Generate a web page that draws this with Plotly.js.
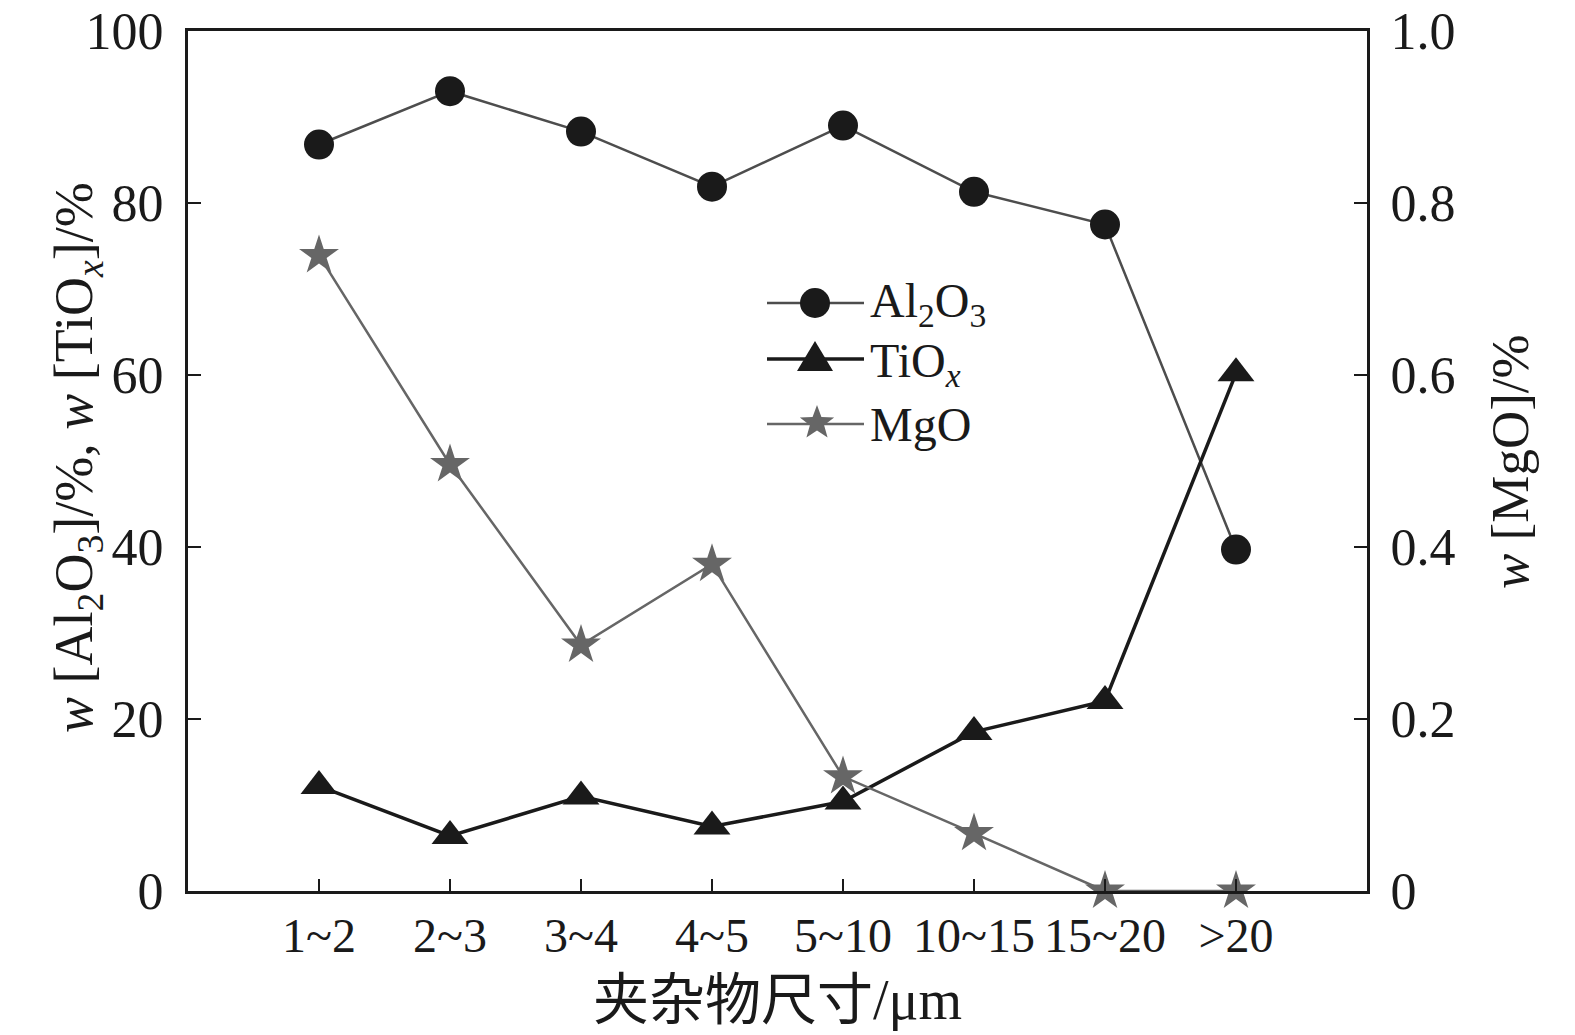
<!DOCTYPE html>
<html>
<head>
<meta charset="utf-8">
<script src="https://cdn.plot.ly/plotly-3.0.1.min.js"></script>
<style>html,body{margin:0;padding:0;background:#fff;}#chart{width:1575px;height:1035px;}</style>
</head>
<body>
<div id="chart"></div>
<script>
const categories = ['1~2', '2~3', '3~4', '4~5', '5~10', '10~15', '15~20', '>20'];
const al2o3 = [86.8, 93.0, 88.3, 81.9, 89.0, 81.3, 77.5, 39.7];
const tiox = [12.2, 6.4, 11.0, 7.5, 10.4, 18.5, 22.1, 60.2];
const mgo = [0.739, 0.496, 0.286, 0.380, 0.133, 0.067, 0.0, 0.0];
const leftTicks = [0, 20, 40, 60, 80, 100];
const rightTicks = [0, 0.2, 0.4, 0.6, 0.8, 1.0];
const rightTickText = ['0', '0.2', '0.4', '0.6', '0.8', '1.0'];
const seriesNames = ['Al<sub>2</sub>O<sub>3</sub>', 'TiO<sub><i>x</i></sub>', 'MgO'];

const W = 1575, H = 1035;
const M = {l: 188, r: 208, t: 31, b: 144};
const PW = W - M.l - M.r, PH = H - M.t - M.b;
const px = v => (v - M.l) / PW;
const py = v => (H - M.b - v) / PH;

const xIdx = categories.map((c, i) => i);
const serif = '"Liberation Serif", "Times New Roman", "Noto Sans CJK SC", serif';
const ink = '#1a1a1a';
const colors = {al: '#4d4d4d', alMark: '#1a1a1a', ti: '#1a1a1a', mg: '#666666'};

const traces = [
  {
    x: xIdx, y: al2o3, name: seriesNames[0], type: 'scatter', mode: 'lines+markers',
    line: {color: colors.al, width: 2.5},
    marker: {symbol: 'circle', size: 30, color: colors.alMark},
    cliponaxis: false, showlegend: false
  },
  {
    x: xIdx, y: tiox, name: seriesNames[1], type: 'scatter', mode: 'lines+markers',
    line: {color: colors.ti, width: 3.5},
    marker: {symbol: 'triangle-up', size: 32, color: colors.ti},
    cliponaxis: false, showlegend: false
  },
  {
    x: xIdx, y: mgo, name: seriesNames[2], type: 'scatter', mode: 'lines+markers', yaxis: 'y2',
    line: {color: colors.mg, width: 2.5},
    marker: {symbol: 'star', size: 30, color: colors.mg},
    cliponaxis: false, showlegend: false
  }
];

// ---- hand-drawn legend (layout only) ----
function starPath(R, r) {
  let pts = [];
  for (let k = 0; k < 10; k++) {
    const a = Math.PI / 2 + k * Math.PI / 5;
    const rad = k % 2 === 0 ? R : r;
    pts.push((rad * Math.cos(a)).toFixed(2) + ',' + (rad * Math.sin(a)).toFixed(2));
  }
  return 'M' + pts.join('L') + 'Z';
}
const legRows = [303, 359, 424];
const legX0 = 767, legX1 = 864, legMX = 815, legTX = 868;
const shapes = [];
const anns = [];
const lineStyles = [
  {color: colors.al, width: 2.5},
  {color: colors.ti, width: 3.5},
  {color: colors.mg, width: 2.5}
];
legRows.forEach((ry, i) => {
  shapes.push({type: 'line', xref: 'paper', yref: 'paper', x0: px(legX0), x1: px(legX1), y0: py(ry), y1: py(ry), line: lineStyles[i], layer: 'above'});
});
shapes.push({type: 'circle', xref: 'paper', yref: 'paper', xsizemode: 'pixel', ysizemode: 'pixel',
  xanchor: px(legMX), yanchor: py(legRows[0]), x0: -15, x1: 15, y0: -15, y1: 15,
  fillcolor: colors.alMark, line: {width: 0}, layer: 'above'});
shapes.push({type: 'path', xref: 'paper', yref: 'paper', xsizemode: 'pixel', ysizemode: 'pixel',
  xanchor: px(legMX), yanchor: py(legRows[1]), path: 'M0,18L-18,-12L18,-12Z',
  fillcolor: colors.ti, line: {width: 0}, layer: 'above'});
shapes.push({type: 'path', xref: 'paper', yref: 'paper', xsizemode: 'pixel', ysizemode: 'pixel',
  xanchor: px(legMX + 2), yanchor: py(legRows[2] - 1), path: starPath(18, 7.5),
  fillcolor: colors.mg, line: {width: 0}, layer: 'above'});
const legShift = [1, 5, 0];
legRows.forEach((ry, i) => {
  anns.push({text: seriesNames[i], xref: 'paper', yref: 'paper', x: px(legTX), y: py(ry + legShift[i]),
    xanchor: 'left', yanchor: 'middle', showarrow: false, font: {family: serif, size: 48, color: ink}});
});
// axis titles as annotations
anns.push({text: '<i>w</i> [Al<sub>2</sub>O<sub>3</sub>]/%, <i>w</i> [TiO<sub><i>x</i></sub>]/%', xref: 'paper', yref: 'paper',
  x: px(77), y: py(458), xanchor: 'center', yanchor: 'middle', textangle: -90, showarrow: false,
  font: {family: serif, size: 54, color: ink}});
anns.push({text: '<i>w</i> [MgO]/%', xref: 'paper', yref: 'paper',
  x: px(1510), y: py(462), xanchor: 'center', yanchor: 'middle', textangle: -90, showarrow: false,
  font: {family: serif, size: 53, color: ink}});
anns.push({text: '夹杂物尺寸/μm', xref: 'paper', yref: 'paper',
  x: px(777), y: py(1000), xanchor: 'center', yanchor: 'middle', showarrow: false,
  font: {family: serif, size: 56, color: ink}});

const layout = {
  width: W, height: H,
  margin: M,
  paper_bgcolor: '#fff', plot_bgcolor: '#fff',
  font: {family: serif, size: 48, color: ink},
  showlegend: false,
  shapes: shapes,
  annotations: anns,
  xaxis: {
    range: [-1, 8], tickmode: 'array', tickvals: xIdx, ticktext: categories,
    ticks: 'inside', ticklen: 12, tickwidth: 2.5, tickcolor: ink,
    showline: true, linecolor: ink, linewidth: 3, mirror: true,
    showgrid: false, zeroline: false,
    tickfont: {family: serif, size: 48, color: ink}
  },
  yaxis: {
    range: [0, 100], tickmode: 'array', tickvals: leftTicks,
    ticks: 'inside', ticklen: 13, tickwidth: 2.5, tickcolor: ink,
    showline: true, linecolor: ink, linewidth: 3,
    showgrid: false, zeroline: false,
    ticklabelstandoff: 11,
    tickfont: {family: serif, size: 52, color: ink}
  },
  yaxis2: {
    range: [0, 1], overlaying: 'y', side: 'right', tickmode: 'array', tickvals: rightTicks, ticktext: rightTickText,
    ticks: 'inside', ticklen: 13, tickwidth: 2.5, tickcolor: ink,
    showline: true, linecolor: ink, linewidth: 3,
    showgrid: false, zeroline: false,
    ticklabelstandoff: 10,
    tickfont: {family: serif, size: 52, color: ink}
  }
};

Plotly.newPlot('chart', traces, layout, {displayModeBar: false, staticPlot: true});
</script>
</body>
</html>
